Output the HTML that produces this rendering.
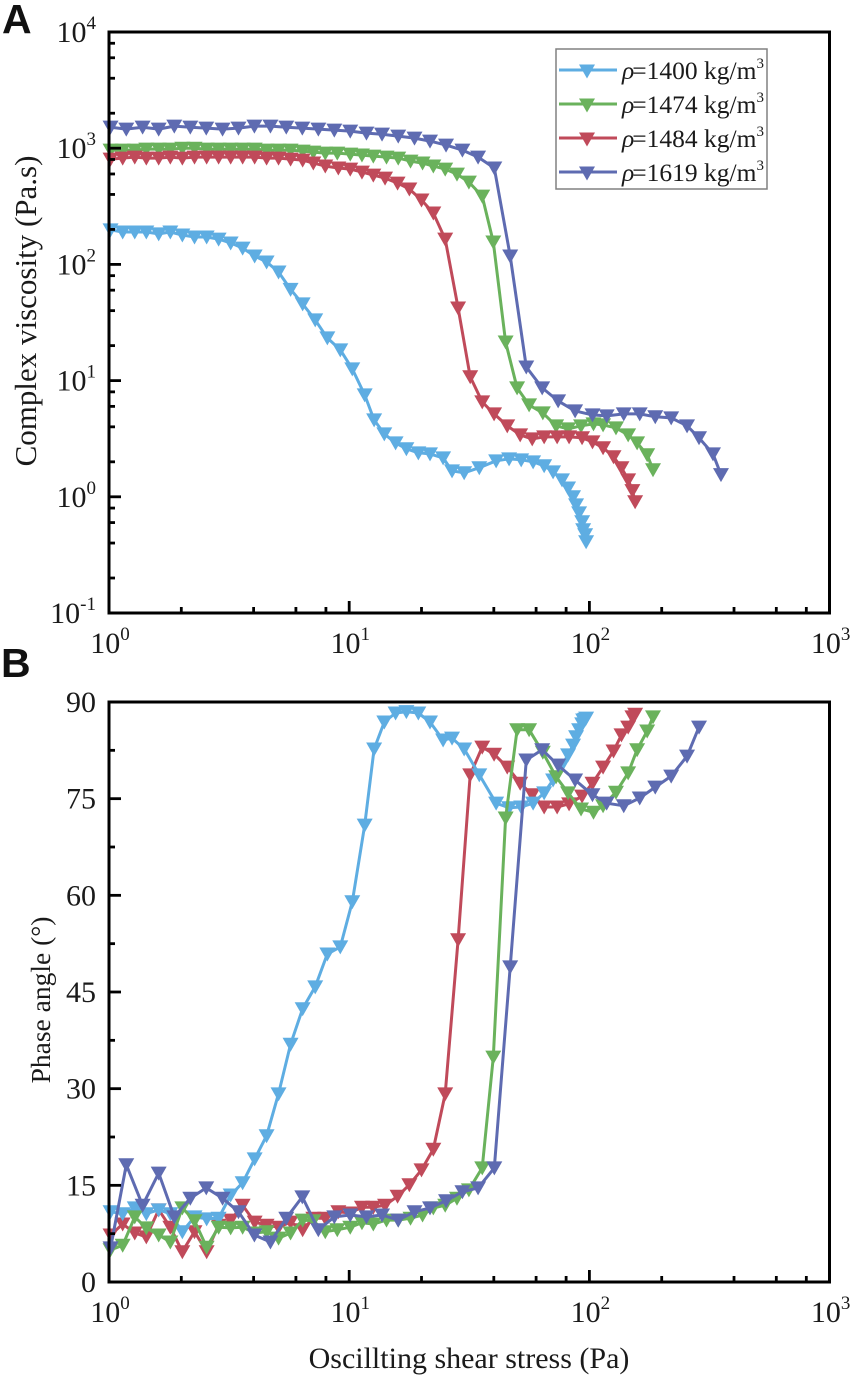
<!DOCTYPE html>
<html lang="en">
<head>
<meta charset="utf-8">
<title>Complex viscosity and phase angle versus oscillating shear stress</title>
<style>
html,body{margin:0;padding:0;background:#fff;}
svg{display:block;}
text{font-family:"Liberation Serif",serif;fill:#1a1a1a;}
</style>
</head>
<body>
<svg id="figure" width="851" height="1379" viewBox="0 0 851 1379" xmlns="http://www.w3.org/2000/svg">
  <rect x="0" y="0" width="851" height="1379" fill="#ffffff"/>
  <text x="2" y="33" style="font-family:'Liberation Sans',sans-serif;font-weight:700;font-size:41px;fill:#111">A</text>
  <text x="1" y="677" style="font-family:'Liberation Sans',sans-serif;font-weight:700;font-size:41px;fill:#111">B</text>
  <text transform="translate(36 311) rotate(-90)" text-anchor="middle" font-size="31">Complex viscosity (Pa.s)</text>
  <text transform="translate(50 1000) rotate(-90)" text-anchor="middle" font-size="27.5">Phase angle (°)</text>
  <text x="469" y="1368" text-anchor="middle" font-size="30">Oscillting shear stress (Pa)</text>
  <g id="panelA"></g>
  <g id="panelB"></g>
  <g id="legend"></g>
</svg>
<script>
// ---------- axis tick data ----------
var xTickExponents = [0, 1, 2, 3];
var viscosityTickExponents = [-1, 0, 1, 2, 3, 4];
var minorTickMultipliers = [2, 4, 6, 8];
var phaseMajorTicks = [0, 15, 30, 45, 60, 75, 90];
var phaseMinorTicks = [7.5, 22.5, 37.5, 52.5, 67.5, 82.5];

// ---------- series labels ----------
var densityLabels = ['1400', '1474', '1484', '1619'];

// ---------- shear stress (Pa) ----------
var stress1400 = [1.015,1.14,1.28,1.43,1.61,1.80,2.02,2.27,2.55,2.86,3.21,3.60,4.04,4.53,5.08,5.70,6.40,7.22,8.11,9.18,10.3,11.6,12.7,14.0,15.6,17.3,19.4,21.7,24.6,26.8,30.1,34.8,40.9,46.3,52.0,58.3,64.8,70.6,76.9,81.5,85.5,88.0,90.6,93.3,94.2,96.0,96.9];
var stress1474 = [1.015,1.14,1.28,1.43,1.61,1.80,2.02,2.27,2.55,2.86,3.21,3.60,4.04,4.53,5.08,5.70,6.40,7.09,7.95,8.92,10.1,11.3,12.6,14.3,16.0,18.0,20.2,22.4,25.1,28.1,31.5,35.8,39.8,44.8,50.0,56.1,64.0,72.7,81.5,92.3,104,114,129,145,158,174,184];
var stress1484 = [1.015,1.14,1.28,1.43,1.61,1.80,2.02,2.27,2.55,2.86,3.21,3.60,4.04,4.53,5.08,5.70,6.40,7.09,7.95,9.01,10.1,11.3,12.6,14.1,15.9,17.8,20.0,22.4,25.1,28.4,31.9,35.8,40.1,45.5,51.5,57.8,64.8,73.4,82.3,93.2,103,114,126,136,145,151,155];
var stress1619 = [1.015,1.18,1.38,1.61,1.87,2.18,2.54,2.97,3.46,4.03,4.70,5.47,6.38,7.44,8.67,10.1,11.8,13.7,16.0,18.7,21.7,25.3,29.6,34.4,40.2,46.8,54.6,63.6,74.1,87.2,103,118,139,162,188,219,255,286,327,353];

// ---------- complex viscosity (Pa.s) ----------
var viscosity1400 = [198,190,190,190,183,190,179,172,172,165,153,138,118,105,86,61,45.7,33.3,23.3,18.4,12.6,7.53,4.59,3.48,2.91,2.59,2.39,2.34,2.16,1.67,1.61,1.78,2.04,2.12,2.08,2.0,1.85,1.64,1.40,1.19,1.0,0.853,0.728,0.61,0.52,0.471,0.41];
var viscosity1474 = [963,963,963,983,983,983,1000,1000,983,983,983,983,983,963,963,963,944,926,907,907,890,873,855,838,822,775,745,702,661,599,511,387,156,21.5,8.65,6.18,5.27,4.08,3.84,4.08,4.24,4.16,3.92,3.41,2.91,2.30,1.71];
var viscosity1484 = [806,822,838,822,822,838,822,838,838,838,838,838,838,822,822,806,790,745,702,675,661,623,587,553,501,445,358,277,165,42.2,10.8,6.56,5.17,4.08,3.41,3.15,3.28,3.28,3.28,3.22,2.97,2.64,2.21,1.78,1.40,1.13,0.906];
var viscosity1619 = [1517,1459,1517,1459,1549,1517,1489,1459,1489,1549,1549,1517,1489,1459,1432,1403,1349,1321,1271,1222,1151,1064,963,838,675,118,13.1,8.65,6.69,5.49,5.07,4.97,5.17,5.17,4.88,4.78,4.08,3.22,2.34,1.55];

// ---------- phase angle (degrees) ----------
var phase1400 = [10.9,10.6,11.5,10.6,11.2,10.6,7.8,10.1,9.8,9.9,13.5,15.4,19.1,22.7,29.2,36.9,42.4,45.8,50.9,52,59,70.9,82.7,86.9,88.3,88.5,88.3,86.9,84.1,84.4,82.7,78.7,74.3,73.6,73.7,74.3,75.9,77.9,80.2,81.8,83.3,84.6,85.7,86.6,87.2,87.3,87.5];
var phase1474 = [5.0,5.7,10.1,8.4,7.3,6.2,11.5,9.5,5.4,8.5,8.4,8.5,7.6,7.8,6.8,7.6,9.6,9.5,7.8,8.1,8.5,9.2,9.0,9.6,9.6,9.9,10.4,11.5,11.9,13.0,14.3,17.7,34.9,72.0,85.7,85.7,82.2,78.4,75.9,73.4,72.9,73.9,76.0,79.0,82.6,85.5,87.7];
var phase1484 = [7.3,9.0,7.6,7.0,11.2,8.5,4.7,7.8,4.7,8.8,9.6,11.9,9.3,8.8,8.5,9.3,8.1,9.9,9.9,10.9,10.7,11.6,11.6,11.9,13.3,15.1,17.4,20.6,29.2,53.1,78.7,83.0,81.9,79.9,77.4,75.6,73.7,73.7,74.2,75.4,77.4,79.9,82.4,84.9,86.1,87.7,88.1];
var phase1619 = [5.3,18.2,11.9,16.9,10.1,13.0,14.6,13.0,10.9,7.3,6.2,9.9,13.2,8.1,10.1,10.4,10.1,10.4,9.6,10.9,11.5,12.6,14.0,14.6,17.7,48.9,81.0,82.6,80.2,77.9,75.6,74.3,73.9,75.1,76.8,78.5,81.6,86.1];

// ---------- series colours ----------
var COLOR_1400 = '#5eade2';
var COLOR_1474 = '#6ab25c';
var COLOR_1484 = '#c04a5a';
var COLOR_1619 = '#5e6bb1';

var SVGNS = 'http://www.w3.org/2000/svg';
function make(tag, parent, attrs) {
  var node = document.createElementNS(SVGNS, tag);
  for (var key in attrs) node.setAttribute(key, attrs[key]);
  parent.appendChild(node);
  return node;
}

// ---------- axis functions ----------
var LEFT = 109, RIGHT = 829.5, DECADE_X = 240.2;
var A_TOP = 32, A_BOTTOM = 613, DECADE_Y = 116.2;
var B_TOP = 702, B_BOTTOM = 1282;
function xScale(v) { return LEFT + Math.log10(v) * DECADE_X; }
function yViscosity(v) { return A_BOTTOM - (Math.log10(v) + 1) * DECADE_Y; }
function yPhase(v) { return B_BOTTOM - (v / 90) * (B_BOTTOM - B_TOP); }

function tick(parent, x1, y1, x2, y2) {
  var el = make('line', parent, {x1: x1, y1: y1, x2: x2, y2: y2, stroke: '#000', 'stroke-width': 2.8});
  
  
}
function frame(parent, top, bottom) {
  var el = make('rect', parent, {x: LEFT, y: top, width: RIGHT - LEFT, height: bottom - top, fill: 'none', stroke: '#000', 'stroke-width': 3});
  
  
}
function powerLabel(parent, x, y, anchor, exponent) {
  var el = make('text', parent, {x: x, y: y, 'text-anchor': anchor, 'font-size': 30});
  
  
  var base = make('tspan', el, {});
  base.textContent = '10';
  var sup = make('tspan', el, {dy: -13, 'font-size': 19});
  sup.textContent = String(exponent);
}
function xAxis(parent, bottom) {
  xTickExponents.forEach(function (exp) {
    var px = xScale(Math.pow(10, exp));
    tick(parent, px, bottom, px, bottom - 12);
    powerLabel(parent, px + 1, bottom + 40, 'middle', exp);
    if (exp < xTickExponents[xTickExponents.length - 1]) {
      minorTickMultipliers.forEach(function (m) {
        var mx = xScale(m * Math.pow(10, exp));
        tick(parent, mx, bottom, mx, bottom - 6);
      });
    }
  });
}
function series(parent, name, xs, ys, yFn, color) {
  var g = make('g', parent, {});
  
  
  var pts = ys.map(function (v, i) { return xScale(xs[i]).toFixed(1) + ',' + yFn(v).toFixed(1); });
  var line = make('polyline', g, {points: pts.join(' '), fill: 'none', stroke: color, 'stroke-width': 3, 'stroke-linejoin': 'round'});
  
  
  ys.forEach(function (v, i) {
    var tri = marker(g, xScale(xs[i]), yFn(v), color);
    
    
  });
}
function marker(parent, cx, cy, color) {
  var p = [(cx - 8) + ',' + (cy - 6.5), (cx + 8) + ',' + (cy - 6.5), cx + ',' + (cy + 7.5)].join(' ');
  return make('polygon', parent, {points: p, fill: color});
}

// ---------- panel A ----------
var panelA = document.getElementById('panelA');
series(panelA, 'series-1400-viscosity', stress1400, viscosity1400, yViscosity, COLOR_1400);
series(panelA, 'series-1474-viscosity', stress1474, viscosity1474, yViscosity, COLOR_1474);
series(panelA, 'series-1484-viscosity', stress1484, viscosity1484, yViscosity, COLOR_1484);
series(panelA, 'series-1619-viscosity', stress1619, viscosity1619, yViscosity, COLOR_1619);
frame(panelA, A_TOP, A_BOTTOM);
xAxis(panelA, A_BOTTOM);
viscosityTickExponents.forEach(function (exp) {
  var py = yViscosity(Math.pow(10, exp));
  tick(panelA, LEFT, py, LEFT + 12, py);
  powerLabel(panelA, 96, py + 10, 'end', exp);
  if (exp < viscosityTickExponents[viscosityTickExponents.length - 1]) {
    minorTickMultipliers.forEach(function (m) {
      var my = yViscosity(m * Math.pow(10, exp));
      tick(panelA, LEFT, my, LEFT + 6, my);
    });
  }
});

// ---------- panel B ----------
var panelB = document.getElementById('panelB');
series(panelB, 'series-1484-phase', stress1484, phase1484, yPhase, COLOR_1484);
series(panelB, 'series-1400-phase', stress1400, phase1400, yPhase, COLOR_1400);
series(panelB, 'series-1474-phase', stress1474, phase1474, yPhase, COLOR_1474);
series(panelB, 'series-1619-phase', stress1619, phase1619, yPhase, COLOR_1619);
frame(panelB, B_TOP, B_BOTTOM);
xAxis(panelB, B_BOTTOM);
phaseMajorTicks.forEach(function (v) {
  var py = yPhase(v);
  tick(panelB, LEFT, py, LEFT + 12, py);
  var label = make('text', panelB, {x: 96, y: py + 10, 'text-anchor': 'end', 'font-size': 30});
  
  
  label.textContent = String(v);
});
phaseMinorTicks.forEach(function (v) {
  var py = yPhase(v);
  tick(panelB, LEFT, py, LEFT + 6, py);
});

// ---------- legend ----------
var legend = document.getElementById('legend');
var legendBox = make('rect', legend, {x: 556, y: 49, width: 211, height: 140, fill: '#fff', stroke: '#808080', 'stroke-width': 1.5});


var legendColors = [COLOR_1400, COLOR_1474, COLOR_1484, COLOR_1619];
densityLabels.forEach(function (label, i) {
  var cy = 70 + i * 34;
  var entry = make('g', legend, {});
  
  
  var swatch = make('line', entry, {x1: 559, y1: cy, x2: 617, y2: cy, stroke: legendColors[i], 'stroke-width': 3});
  
  
  var tri = marker(entry, 587, cy + 1, legendColors[i]);
  
  
  var text = make('text', entry, {x: 622, y: cy + 9, 'font-size': 25.5});
  
  
  var rho = make('tspan', text, {'font-style': 'italic'});
  rho.textContent = 'ρ';
  var rest = make('tspan', text, {dx: -2});
  rest.textContent = '=' + label + ' kg/m';
  var sup = make('tspan', text, {dy: -11, 'font-size': 15});
  sup.textContent = '3';
});
</script>
</body>
</html>
